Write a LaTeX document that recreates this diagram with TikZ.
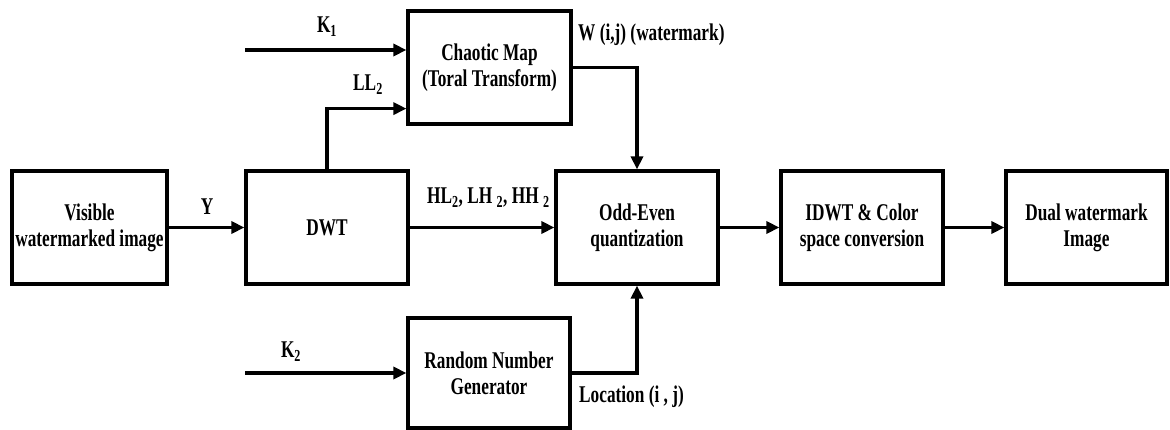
\documentclass[tikz,border=0pt]{standalone}
\usepackage{fontspec}
\setmainfont{Liberation Serif}[FakeStretch=0.72]
\usetikzlibrary{arrows.meta}
\begin{document}
\begin{tikzpicture}[x=1pt,y=-1pt,
  every node/.style={font=\fontsize{24}{26}\selectfont\bfseries},
  blk/.style={draw,line width=3.2pt,inner sep=0pt,align=center,minimum height=113pt,minimum width=162pt},
  lbl/.style={inner sep=0pt},
  arr/.style={line width=3.2pt,-{Triangle[length=13pt,width=12pt]}}]
\useasboundingbox (0,0) rectangle (1170,430);

% processing blocks
\node[blk,minimum width=155pt] (vis) at (89.5,227.5) {Visible\\watermarked image};
\node[blk] (dwt) at (327,227.5) {DWT};
\node[blk,minimum width=163pt] (chaos) at (489.5,67.5) {Chaotic Map\\(Toral Transform)};
\node[blk] (odd) at (637,227.5) {Odd-Even\\quantization};
\node[blk,minimum height=110pt] (rng) at (489,373) {Random Number\\Generator};
\node[blk] (idwt) at (862,227.5) {IDWT \& Color\\space conversion};
\node[blk,minimum width=161pt] (dual) at (1086.5,227.5) {Dual watermark\\Image};

% free ends of the key inputs
\coordinate (k1) at (245,50);
\coordinate (k2) at (245,373);

% connectors
\draw[arr] (vis.east) -- (dwt.west);
\draw[arr] (k1) -- (k1 -| chaos.west);
\draw[arr] (dwt.north) |- ([yshift=17pt]chaos.south west);
\draw[arr] (chaos.east) -| (odd.north);
\draw[arr] (dwt.east) -- (odd.west);
\draw[arr] (k2) -- (rng.west);
\draw[arr] (rng.east) -| (odd.south);
\draw[arr] (odd.east) -- (idwt.west);
\draw[arr] (idwt.east) -- (dual.west);

% signal labels
\node[lbl] (lk1) at (327,27) {K\textsubscript{1}};
\node[lbl] (lll) at (368,85) {LL\textsubscript{2}};
\node[lbl,anchor=west] (lw) at (578,35) {W (i,j) (watermark)};
\node[lbl] (ly) at (207,207) {Y};
\node[lbl,anchor=west] (lhl) at (427,198) {HL\textsubscript{2}, LH \textsubscript{2}, HH \textsubscript{2}};
\node[lbl] (lk2) at (291,352) {K\textsubscript{2}};
\node[lbl,anchor=west] (lloc) at (579,397) {Location (i , j)};
\end{tikzpicture}
\end{document}
